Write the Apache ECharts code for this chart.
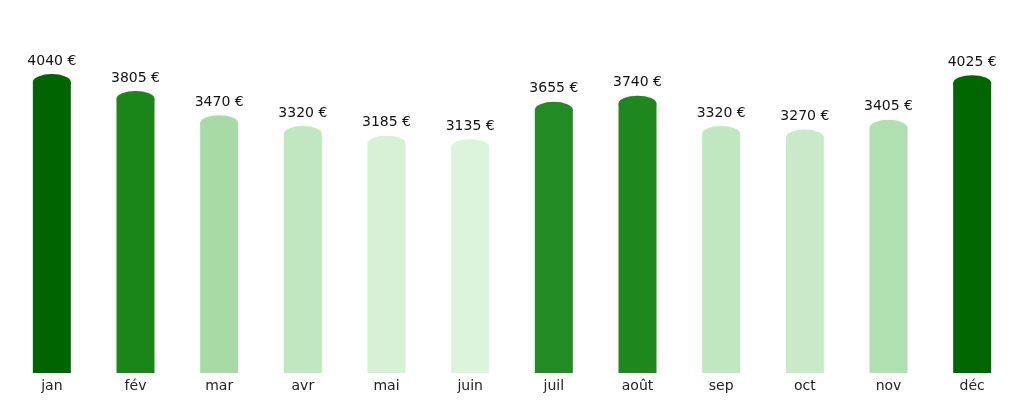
<!DOCTYPE html>
<html>
<head>
<meta charset="utf-8">
<script src="https://cdn.jsdelivr.net/npm/echarts@6/dist/echarts.min.js"></script>
<style>
html, body { margin: 0; padding: 0; background: #fff; }
#chart { width: 1024px; height: 404px; }
</style>
</head>
<body>
<div id="chart"></div>
<script>
var months = ['jan', 'fév', 'mar', 'avr', 'mai', 'juin', 'juil', 'août', 'sep', 'oct', 'nov', 'déc'];
var values = [4040, 3805, 3470, 3320, 3185, 3135, 3655, 3740, 3320, 3270, 3405, 4025];
var colors = ['#006400', '#1a861a', '#a6dba6', '#c1e7c1', '#d6f1d6', '#dcf4dc',
              '#238b23', '#1e881e', '#c1e7c1', '#c8eac8', '#b0e0b0', '#006600'];

var myChart = echarts.init(document.getElementById('chart'));

// barres + chapeau elliptique en haut
var barData = values.map(function (v, i) {
    return { value: v, itemStyle: { color: colors[i] } };
});

myChart.setOption({
    animation: false,
    textStyle: { fontFamily: 'DejaVu Sans' },
    grid: { left: 10, right: 10, top: 53, bottom: 31 },
    xAxis: {
        type: 'category',
        data: months,
        axisLine: { show: false },
        axisTick: { show: false },
        axisLabel: { color: '#222', fontSize: 14, margin: 6, fontFamily: 'DejaVu Sans' }
    },
    yAxis: {
        type: 'value',
        min: 0,
        max: 4444,
        show: false,
        splitLine: { show: false }
    },
    series: [{
        type: 'bar',
        data: barData,
        barWidth: 38,
        label: {
            show: true,
            position: 'top',
            distance: 14,
            color: '#111',
            fontSize: 14,
            fontFamily: 'DejaVu Sans',
            formatter: function (p) { return p.value + ' €'; }
        }
    }, {
        type: 'pictorialBar',
        data: barData,
        symbol: 'circle',
        symbolSize: [38, 16],
        symbolPosition: 'end',
        symbolOffset: [0, '-50%'],
        barGap: '-100%',
        z: 3
    }]
});
</script>
</body>
</html>
